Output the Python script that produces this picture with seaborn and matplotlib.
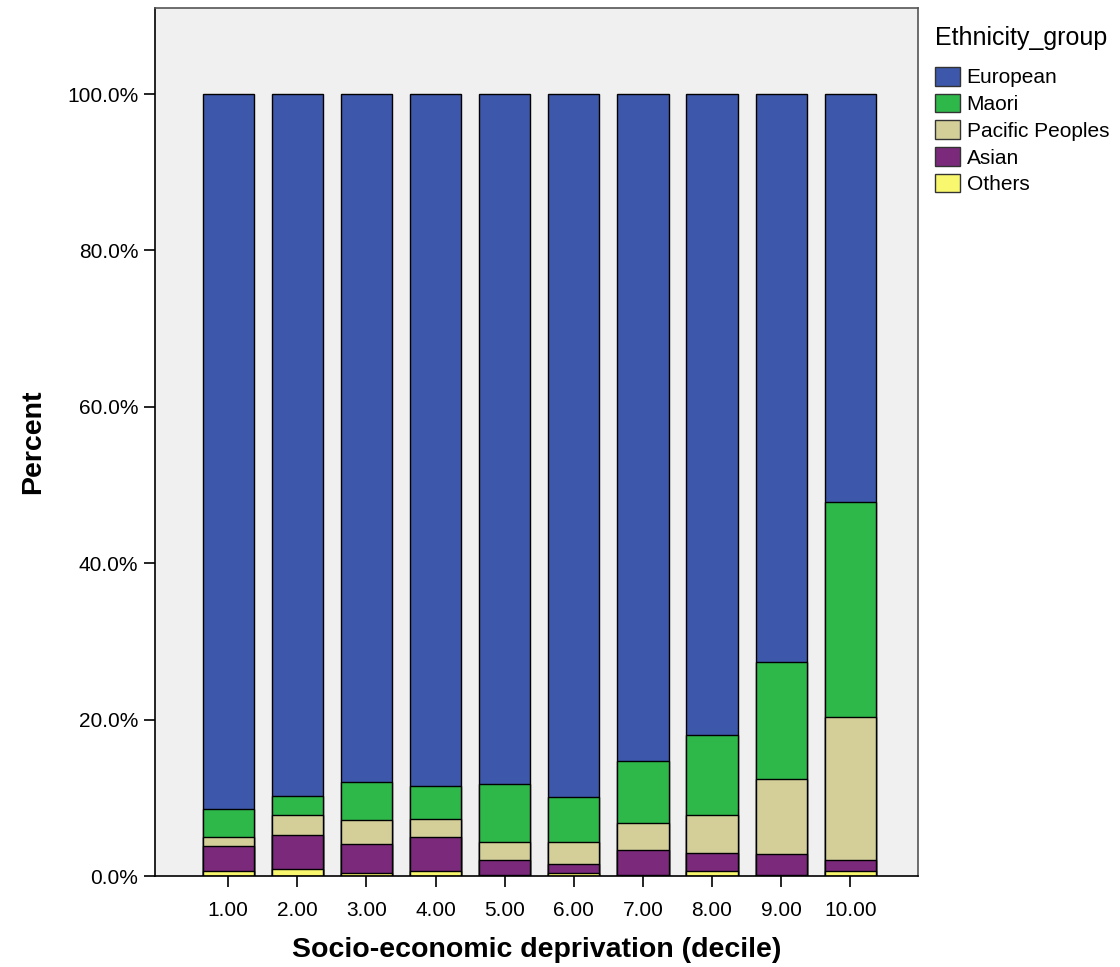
import numpy as np
import pandas as pd
import matplotlib
matplotlib.use('Agg')
import matplotlib.pyplot as plt
import seaborn as sns
from matplotlib.patches import Patch
from matplotlib.ticker import FuncFormatter

# Data (percent within each decile)
deciles = ['1.00', '2.00', '3.00', '4.00', '5.00', '6.00', '7.00', '8.00', '9.00', '10.00']
groups = ['European', 'Maori', 'Pacific Peoples', 'Asian', 'Others']
others = [0.68, 0.9, 0.35, 0.7, 0.15, 0.4, 0.15, 0.7, 0.15, 0.7]
asian = [3.16, 4.4, 3.75, 4.25, 1.9, 1.1, 3.15, 2.3, 2.65, 1.3]
pacific = [1.19, 2.5, 3.1, 2.3, 2.3, 2.9, 3.5, 4.8, 9.6, 18.3]
maori = [3.57, 2.4, 4.8, 4.25, 7.45, 5.7, 7.9, 10.2, 15.0, 27.5]
european = list(100 - np.array(others) - np.array(asian) - np.array(pacific) - np.array(maori))

colors = {
    'European': '#3D58AB',
    'Maori': '#2EB84A',
    'Pacific Peoples': '#D4CF99',
    'Asian': '#7B2A7B',
    'Others': '#F9F76E',
}

sns.set_style('white')
plt.rcParams['font.family'] = ['Liberation Sans', 'DejaVu Sans']
plt.rcParams['text.color'] = 'black'
plt.rcParams['axes.labelcolor'] = 'black'

df = pd.DataFrame({
    'decile': deciles,
    'European': european,
    'Maori': maori,
    'Pacific Peoples': pacific,
    'Asian': asian,
    'Others': others,
})

fig = plt.figure(figsize=(11.2, 9.67), dpi=100)
ax = fig.add_axes([155 / 1120, 1 - 876 / 967, (918 - 155) / 1120, (876 - 8) / 967])
ax.set_facecolor('#F0F0F0')

# stacked bars: draw cumulative heights from the top segment down
stack_order = ['Others', 'Asian', 'Pacific Peoples', 'Maori', 'European']
cum = np.zeros(len(deciles))
cums = {}
for g in stack_order:
    cum = cum + np.array(df[g])
    cums[g] = cum.copy()

for g in reversed(stack_order):
    sns.barplot(x=df['decile'], y=cums[g], order=deciles, color=colors[g],
                edgecolor='black', linewidth=1.0, width=0.74, ax=ax, saturation=1)

ax.set_xlim(-1.06, 9.98)
ax.set_ylim(0, 111)
ax.set_yticks([0, 20, 40, 60, 80, 100])
ax.yaxis.set_major_formatter(FuncFormatter(lambda v, p: f'{v:.1f}%'))
ax.tick_params(axis='both', which='both', direction='out', length=8, width=1.2,
               labelsize=15, colors='black', bottom=True, left=True)
ax.tick_params(axis='x', pad=10)
ax.tick_params(axis='y', pad=4)

ax.set_xlabel('Socio-economic deprivation (decile)', fontsize=20.5, fontweight='bold', labelpad=12)
ax.set_ylabel('Percent', fontsize=20.5, fontweight='bold', labelpad=15)

for side in ['top', 'right']:
    ax.spines[side].set_color('#555555')
    ax.spines[side].set_linewidth(1.2)
for side in ['left', 'bottom']:
    ax.spines[side].set_color('black')
    ax.spines[side].set_linewidth(1.2)

handles = [Patch(facecolor=colors[g], edgecolor='#333333', linewidth=1.0) for g in groups]
leg = fig.legend(handles, groups, title='Ethnicity_group', loc='upper left',
                 bbox_to_anchor=(927 / 1120, 1 - 18 / 967), frameon=False,
                 fontsize=15, title_fontsize=18, handlelength=1.2, handleheight=1.0,
                 handletextpad=0.3, labelspacing=0.3, borderaxespad=0)
leg._legend_box.align = 'left'
leg._legend_box.sep = 12

fig.savefig('out.png', dpi=100)
